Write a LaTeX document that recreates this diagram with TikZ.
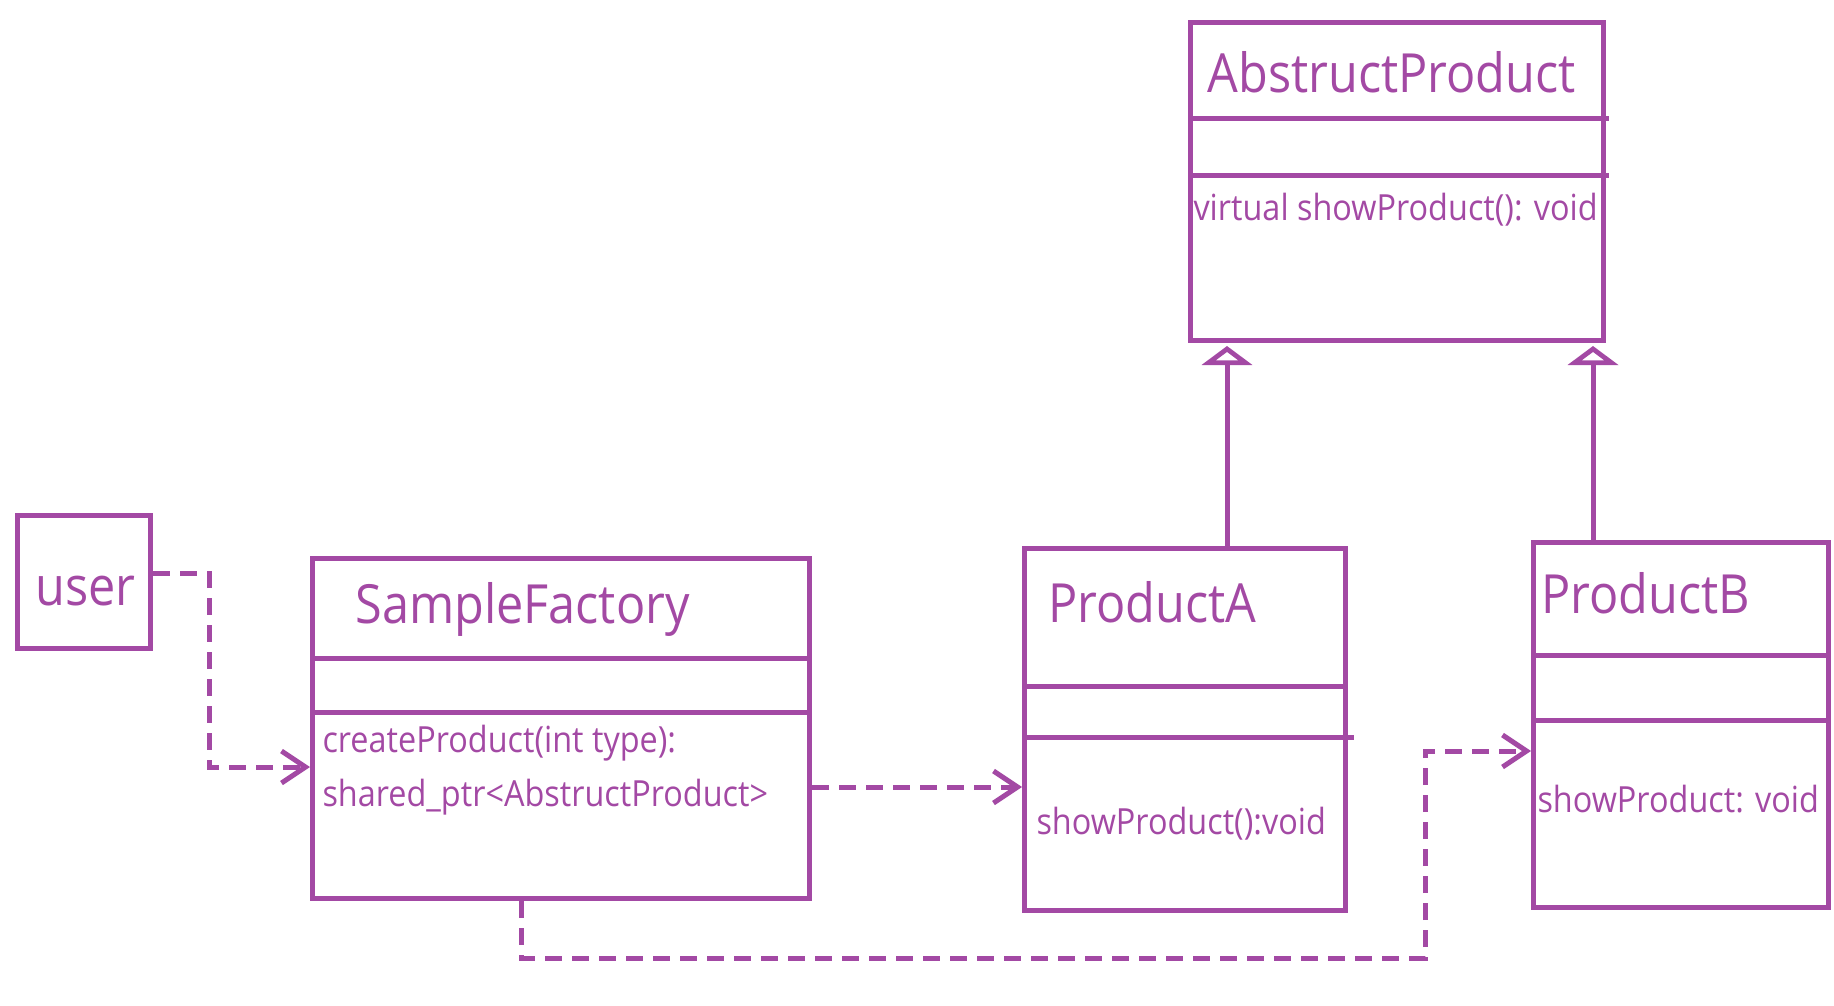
\documentclass[tikz,border=0pt]{standalone}
\usepackage{fontspec}
\setmainfont{Open Sans}[FakeStretch=0.9]
\usetikzlibrary{arrows.meta}
\definecolor{umlpurple}{RGB}{163,73,164}

\begin{document}
\begin{tikzpicture}[x=1pt, y=-1pt, line width=5pt, umlpurple,
  classbox/.style={draw, anchor=north west, inner sep=0pt},
  classname/.style={anchor=base west, inner sep=0pt, font=\fontsize{54}{64}\selectfont},
  member/.style={anchor=base west, inner sep=0pt, font=\fontsize{36}{43}\selectfont},
  dep/.style={dash pattern=on 17pt off 10pt, -{Straight Barb[length=24pt,width=32pt]}},
  inherit/.style={-{Triangle[open,length=19pt,width=50pt]}}]

\useasboundingbox (0,0) rectangle (1834,1006);

% user
\node[classbox, minimum width=133pt, minimum height=133pt] (user) at (15,513) {};
\node[classname] (usertext) at (33,605) {user};

% SampleFactory
\node[classbox, minimum width=497pt, minimum height=340pt] (factory) at (310,556) {};
\draw (factory.west |- 0,658) -- (factory.east |- 0,658);
\draw (factory.west |- 0,712) -- (factory.east |- 0,712);
\node[classname] (factoryname) at (353,623) {SampleFactory};
\node[member] (create) at (320,752) {createProduct(int type):};
\node[member] (createret) at (320,806) {shared\_ptr<AbstructProduct>};

% ProductA
\node[classbox, minimum width=321pt, minimum height=362pt] (prodA) at (1022,546) {};
\draw (prodA.west |- 0,686) -- (prodA.east |- 0,686);
\draw (prodA.west |- 0,737) -- ([xshift=6pt]prodA.east |- 0,737);
\node[classname] (prodAname) at (1046,622) {ProductA};
\node[member] (showA) at (1034,834) {showProduct():void};

% ProductB
\node[classbox, minimum width=295pt, minimum height=365pt] (prodB) at (1531,540) {};
\draw (prodB.west |- 0,655) -- (prodB.east |- 0,655);
\draw (prodB.west |- 0,720) -- (prodB.east |- 0,720);
\node[classname] (prodBname) at (1539,613) {ProductB};
\node[member] (showB) at (1535,812) {showProduct: void};

% AbstructProduct
\node[classbox, minimum width=413pt, minimum height=318pt] (abstract) at (1188,20) {};
\draw (abstract.west |- 0,119) -- ([xshift=3pt]abstract.east |- 0,119);
\draw (abstract.west |- 0,175) -- ([xshift=3pt]abstract.east |- 0,175);
\node[classname] (abstractname) at (1205,93) {AbstructProduct};
\node[member] (showvirtual) at (1191,220) {virtual showProduct(): void};

% dependencies
\coordinate (userout) at (0,573);
\coordinate (userbend) at (209,767);
\draw[dep] (user.east |- userout) -| (userbend) -- (userbend -| factory.west);

\coordinate (callA) at (0,787);
\draw[dep] (factory.east |- callA) -- (prodA.west |- callA);

\coordinate (callB1) at (521,958);
\coordinate (callB2) at (1425,751);
\draw[dep] (callB1 |- factory.south) -- (callB1) -| (callB2) -- (callB2 -| prodB.west);

% inheritance
\coordinate (inhA) at (1227,0);
\coordinate (inhB) at (1593,0);
\draw[inherit] (inhA |- prodA.north) -- ([yshift=-3pt]inhA |- abstract.south);
\draw[inherit] (inhB |- prodB.north) -- ([yshift=-3pt]inhB |- abstract.south);

\end{tikzpicture}
\end{document}
